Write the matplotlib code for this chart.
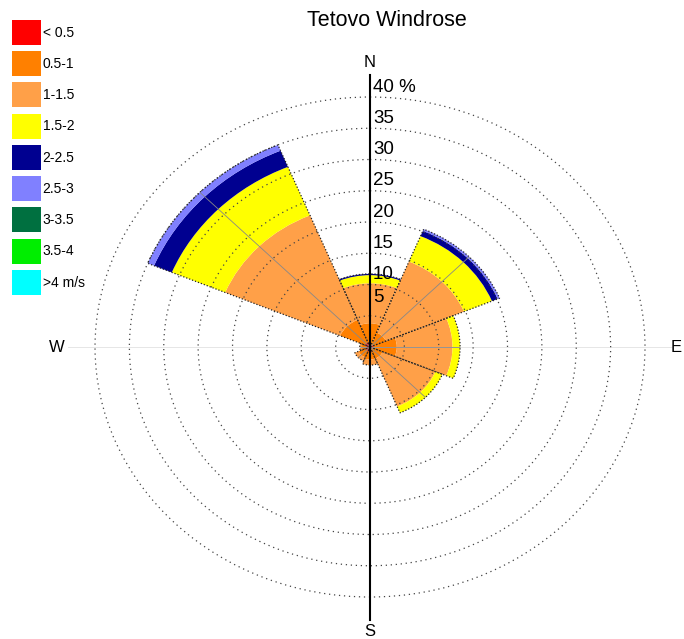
import numpy as np
import matplotlib
matplotlib.use('Agg')
import matplotlib.pyplot as plt
from matplotlib.transforms import offset_copy

plt.rcParams['font.family'] = ['Liberation Sans', 'DejaVu Sans']

# Wind directions (8 sectors) and frequency (%) per speed class
directions = ['N', 'NE', 'E', 'SE', 'S', 'SW', 'W', 'NW']
speed_classes = ['< 0.5', '0.5-1', '1-1.5', '1.5-2', '2-2.5', '2.5-3', '3-3.5', '3.5-4', '>4 m/s']
class_colors = ['#ff0000', '#ff8000', '#ffa048', '#ffff00', '#000090',
                '#8080ff', '#007040', '#00ee00', '#00ffff']

freq_lt05 = [0.5, 0.4, 0.5, 0.4, 0.8, 0.7, 0.5, 0.8]
freq_05_1 = [3.3, 2.1, 3.4, 1.6, 1.2, 1.1, 0.8, 3.9]
freq_1_15 = [6.4, 12.3, 8.1, 8.3, 0.9, 0.6, 0.2, 18.1]
freq_15_2 = [1.3, 4.4, 1.1, 1.1, 0.0, 0.0, 0.0, 8.4]
freq_2_25 = [0.2, 0.9, 0.0, 0.0, 0.0, 0.0, 0.0, 2.8]
freq_25_3 = [0.0, 0.3, 0.0, 0.0, 0.0, 0.0, 0.0, 1.0]
freq_3_35 = [0.0] * 8
freq_35_4 = [0.0] * 8
freq_gt4 = [0.0] * 8

ring_values = [5, 10, 15, 20, 25, 30, 35, 40]
ring_labels = ['5', '10', '15', '20', '25', '30', '35', '40 %']

freqs = [freq_lt05, freq_05_1, freq_1_15, freq_15_2, freq_2_25,
         freq_25_3, freq_3_35, freq_35_4, freq_gt4]

theta = np.deg2rad(np.arange(0, 360, 45))
width = np.deg2rad(45)
rmax = 44

fig = plt.figure(figsize=(6.84, 6.39), dpi=100)
ax = fig.add_axes([0.0987, 0.0266, 0.8845, 0.8607], projection='polar')
ax.set_aspect('auto')
ax.set_theta_zero_location('N')
ax.set_theta_direction(-1)
ax.set_ylim(0, rmax)

# stacked sectors
bottom = np.zeros(len(directions))
handles = []
for vals, col, lab in zip(freqs, class_colors, speed_classes):
    vals = np.array(vals)
    bars = ax.bar(theta, vals, width=width, bottom=bottom, color=col,
                  edgecolor='none', label=lab, zorder=2)
    handles.append(bars)
    bottom += vals

# dotted outline of each sector and a thin line along its direction
ax.bar(theta, bottom, width=width, fill=False, edgecolor='#222222',
       linewidth=0.9, linestyle=(0, (1, 1.5)), zorder=3)
ax.vlines(theta, 0, bottom, color='#888888', linewidth=0.6, zorder=3)

# dotted rings over the sectors, faint W-E line
ax.set_axisbelow(False)
ax.set_rgrids(ring_values, labels=[''] * len(ring_values))
ax.set_thetagrids([90, 270], labels=['', ''])
ax.yaxis.grid(True, color='#444444', linestyle=(0, (1, 3)), linewidth=0.9)
ax.xaxis.grid(True, color='#e2e2e2', linestyle='-', linewidth=0.6)
ax.spines['polar'].set_visible(False)
ax.tick_params(length=0)
ax.patch.set_alpha(0)

# N-S axis
ax.plot([0, 0], [0, 43.6], color='black', linewidth=1.5, zorder=5)
ax.plot([np.pi, np.pi], [0, 43.6], color='black', linewidth=1.5, zorder=5)

# ring labels along the north axis
for r, lab in zip(ring_values, ring_labels):
    dy = 18 if r == 5 else 10
    tr = offset_copy(ax.transData, fig=fig, x=3, y=dy, units='dots')
    ax.text(0, r, lab, transform=tr, ha='left', va='center', fontsize=13.5, zorder=6)

# compass labels
for ang, r, lab in zip([0, 90, 180, 270], [45.5, 44.6, 45.5, 45.5], ['N', 'E', 'S', 'W']):
    ax.text(np.deg2rad(ang), r, lab, ha='center', va='center', fontsize=12)

fig.text(387 / 684, 1 - 21 / 639, 'Tetovo Windrose', ha='center', va='center', fontsize=15.5)

fig.legend(handles=handles, labels=speed_classes, loc='upper left',
           bbox_to_anchor=(12 / 684, 1 - 20 / 639), bbox_transform=fig.transFigure,
           frameon=False, fontsize=10, handlelength=2.09, handleheight=2.39,
           labelspacing=0.45, handletextpad=0.12, borderpad=0, borderaxespad=0)

fig.savefig('out.png', dpi=100)
